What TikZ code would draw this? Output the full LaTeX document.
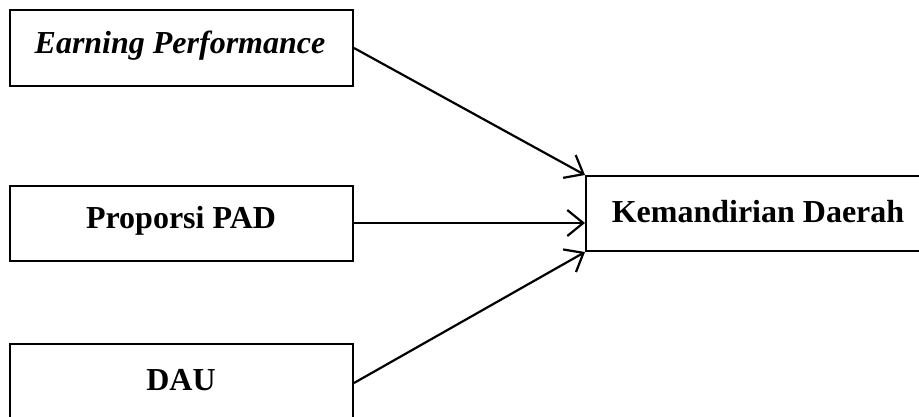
\documentclass[tikz,border=0pt]{standalone}
\usepackage{fontspec}
\setmainfont{Liberation Serif}
\usetikzlibrary{arrows.meta}
\begin{document}
\begin{tikzpicture}[x=1pt,y=-1pt,
  box/.style={draw, line width=2pt, rectangle, inner sep=0pt},
  lbl/.style={font=\fontsize{32}{36}\selectfont\bfseries, inner sep=0pt},
  conn/.style={line width=2.2pt, -{Straight Barb[length=16pt,width=26pt,line width=2.2pt]}}]
\useasboundingbox (0,0) rectangle (919,416);
% boxes
\node[box, minimum width=343pt, minimum height=76pt] (ep) at (181.5,48) {};
\node[box, minimum width=343pt, minimum height=75pt] (pad) at (181.5,223) {};
\node[box, minimum width=343pt, minimum height=78pt] (dau) at (181.5,383) {};
\node[box, minimum width=345pt, minimum height=75pt] (kd) at (758.5,213.5) {};
% labels
\node[lbl] (tep) at (180,46) {\itshape Earning Performance};
\node[lbl] (tpad) at (181,221) {Proporsi PAD};
\node[lbl] (tdau) at (181,380) {DAU};
\node[lbl] (tkd) at (758,212) {Kemandirian Daerah};
% connectors
\coordinate (kdmid) at (kd.west |- pad.east);
\draw[conn] (ep.east) -- (kd.north west);
\draw[conn] (pad.east) -- (kdmid);
\draw[conn] (dau.east) -- (kd.south west);
\end{tikzpicture}
\end{document}
